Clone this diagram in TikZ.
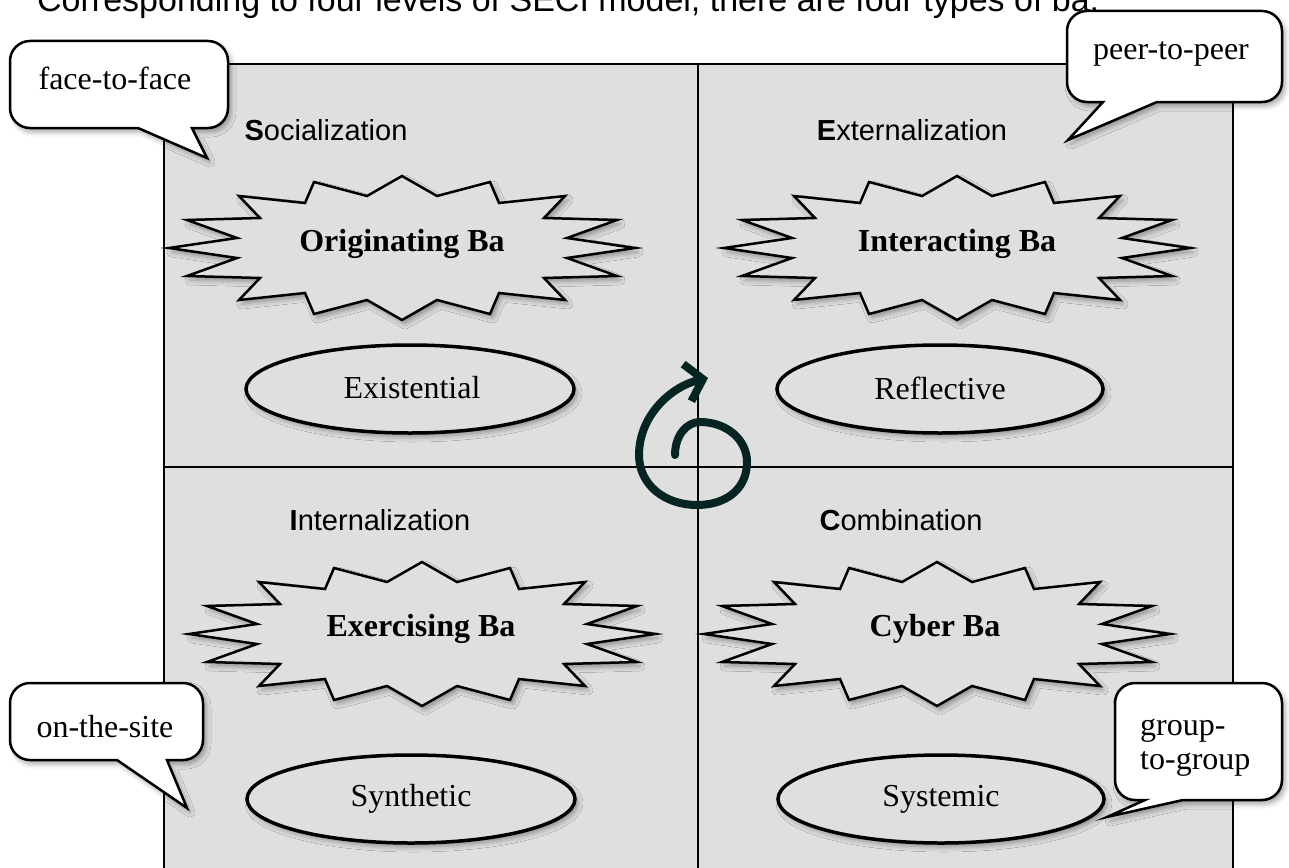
\documentclass[tikz,border=0pt]{standalone}
\usepackage{fontspec}
\setmainfont{Liberation Serif}
\setsansfont{Liberation Sans}
\usetikzlibrary{arrows.meta,shadows.blur}

\definecolor{quad}{RGB}{223,223,223}
\definecolor{spiralc}{RGB}{6,36,34}

\tikzset{
  softshadow/.style={blur shadow={shadow xshift=3pt, shadow yshift=-4pt,
      shadow blur radius=5pt, shadow opacity=35}},
  gridline/.style={line width=2.5pt, black},
  burstline/.style={line width=2.5pt, fill=quad, line join=miter, softshadow},
  ovalline/.style={line width=3.5pt, fill=quad, softshadow},
  bubbleline/.style={line width=2.5pt, fill=white, softshadow},
  headline/.style={font=\sffamily\fontsize{34}{40}\selectfont, inner sep=0pt},
  quadlabel/.style={font=\sffamily\fontsize{29}{34}\selectfont, inner sep=0pt},
  batext/.style={font=\bfseries\fontsize{32}{36}\selectfont, inner sep=0pt},
  ovaltext/.style={font=\fontsize{32}{36}\selectfont, inner sep=0pt},
  bubbletext/.style={font=\fontsize{32}{34}\selectfont, inner sep=0pt},
}

% a jagged starburst centred on a named coordinate
\newcommand\starburst[1]{%
  \draw[burstline, shift={(#1)}]
    (0,-72) -- (35,-52) -- (88,-66) -- (97,-45) -- (163,-52) -- (142,-30)
    -- (215,-28) -- (165,-10) -- (233,0) -- (165,10) -- (215,28) -- (142,30)
    -- (163,52) -- (97,45) -- (88,66) -- (35,52) -- (0,72) -- (-35,52)
    -- (-88,66) -- (-97,45) -- (-163,52) -- (-142,30) -- (-215,28) -- (-165,10)
    -- (-233,0) -- (-165,-10) -- (-215,-28) -- (-142,-30) -- (-163,-52)
    -- (-97,-45) -- (-88,-66) -- (-35,-52) -- cycle;}

% a speech bubble: left, top, right, bottom, tail base (right x), tip x, tip y, tail base (left x)
\newcommand\bubble[8]{%
  \draw[bubbleline]
    ({#1+20},#2) -- ({#3-20},#2) arc[start angle=90,end angle=0,radius=20pt]
    -- (#3,{#4-20}) arc[start angle=0,end angle=-90,radius=20pt]
    -- (#5,#4) -- (#6,#7) -- (#8,#4)
    -- ({#1+20},#4) arc[start angle=-90,end angle=-180,radius=20pt]
    -- (#1,{#2+20}) arc[start angle=180,end angle=90,radius=20pt] -- cycle;}

\begin{document}
\begin{tikzpicture}[x=1pt, y=-1pt]
\useasboundingbox (0,0) rectangle (1289,867);

% heading line (runs off the top edge)
\node[headline, anchor=base west] (title) at (37,12)
  {Corresponding to four levels of SECI model, there are four types of ba.};

% four quadrants
\filldraw[gridline, fill=quad] (164,64) rectangle (1233,900);
\coordinate (vtop) at (698,64);
\coordinate (vbot) at (698,900);
\coordinate (hleft) at (164,467);
\coordinate (hright) at (1233,467);
\draw[gridline] (vtop) -- (vbot);
\draw[gridline] (hleft) -- (hright);

% spiral in the centre
\draw[spiralc, line width=8pt, line cap=round,
      -{Straight Barb[length=16pt,width=38pt]}]
  (675,455) .. controls (675,435) and (687,422) .. (700,422)
  .. controls (727,422) and (747,440) .. (747,462)
  .. controls (747,490) and (725,505) .. (697,505)
  .. controls (665,505) and (639,485) .. (639,455)
  .. controls (639,415) and (672,386) .. (708,378);

% quadrant titles
\node[quadlabel] (soc) at (326,130) {\textbf{S}ocialization};
\node[quadlabel] (ext) at (912,130) {\textbf{E}xternalization};
\node[quadlabel] (int) at (380,520) {\textbf{I}nternalization};
\node[quadlabel] (com) at (901,520) {\textbf{C}ombination};

% starbursts
\coordinate (b1) at (402,248);
\coordinate (b2) at (957,248);
\coordinate (b3) at (422,634);
\coordinate (b4) at (937,634);
\starburst{b1}
\starburst{b2}
\starburst{b3}
\starburst{b4}
\node[batext] (orig) at (402,244) {Originating Ba};
\node[batext] (inter) at (957,244) {Interacting Ba};
\node[batext] (exer) at (421,629) {Exercising Ba};
\node[batext] (cyber) at (935,629) {Cyber Ba};

% ovals
\draw[ovalline] (410,389) ellipse[x radius=164, y radius=44];
\draw[ovalline] (940,389) ellipse[x radius=163, y radius=44];
\draw[ovalline] (411,799) ellipse[x radius=164, y radius=44];
\draw[ovalline] (941,799) ellipse[x radius=163, y radius=44];
\node[ovaltext] (exi) at (412,388) {Existential};
\node[ovaltext] (ref) at (940,388) {Reflective};
\node[ovaltext] (syn) at (411,799) {Synthetic};
\node[ovaltext] (sys) at (941,799) {Systemic};

% speech bubbles
\bubble{10}{41}{228}{128}{192}{207}{158}{138}
\node[bubbletext] (ftf) at (115,78) {face-to-face};

\bubble{1067}{11}{1282}{102}{1157}{1068}{140}{1103}
\node[bubbletext] (p2p) at (1171,54) {peer-to-peer};

\bubble{10}{683}{203}{760}{167}{187}{808}{117}
\node[bubbletext] (ots) at (105,727) {on-the-site};

\bubble{1115}{683}{1282}{800}{1183}{1107}{817}{1145}
\node[bubbletext, align=left, anchor=west] (g2g) at (1140,748) {group-\\to-group};

\end{tikzpicture}
\end{document}
